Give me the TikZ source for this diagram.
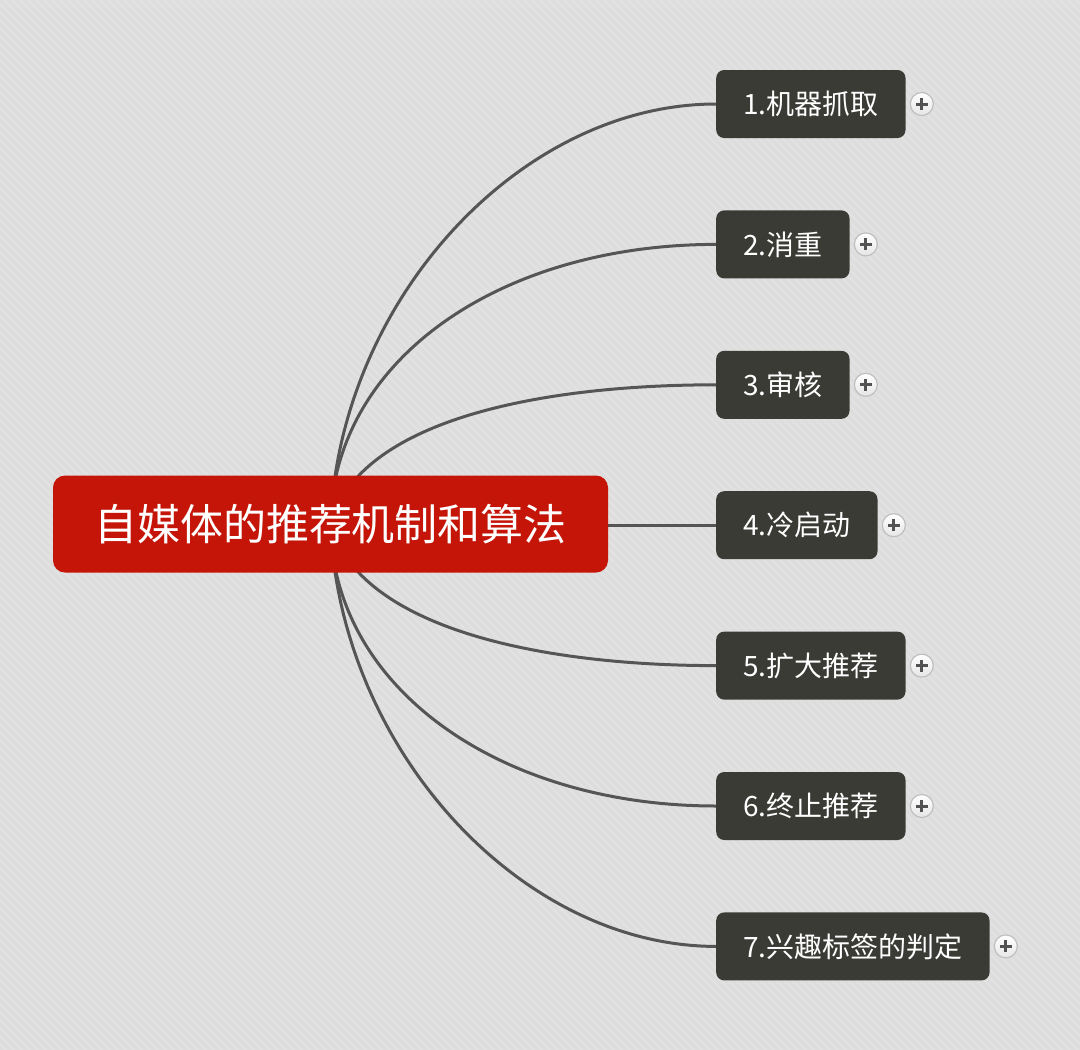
\documentclass[tikz,border=0pt]{standalone}
\usepackage{fontspec}
\newfontfamily\cjk{Noto Sans CJK SC}
\usetikzlibrary{positioning}

\definecolor{paperbase}{HTML}{E2E2E2}
\definecolor{paperstripe}{HTML}{DDDDDD}
\definecolor{rootred}{HTML}{C41508}
\definecolor{branchgray}{HTML}{3B3B36}
\definecolor{linkgray}{HTML}{555555}

\pgfdeclarelayer{paper}
\pgfdeclarelayer{links}
\pgfsetlayers{paper,links,main}

\begin{document}
\begin{tikzpicture}[
    x=1pt, y=-1pt,
    rootbox/.style={
        rectangle,
        rounded corners=12pt,
        fill=rootred,
        text=white,
        minimum width=555pt,
        minimum height=97pt,
        font=\cjk\fontsize{43}{48}\selectfont
    },
    branch/.style={
        rectangle,
        rounded corners=8pt,
        fill=branchgray,
        text=white,
        minimum height=68pt,
        inner xsep=27pt,
        font=\cjk\fontsize{28}{30}\selectfont
    },
    plusdot/.style={
        circle,
        minimum size=23pt,
        inner sep=0pt,
        draw=black!25,
        line width=1.2pt,
        top color=white,
        bottom color=black!10,
        path picture={
            \draw[black!68, line width=3pt]
                ([xshift=-6pt]path picture bounding box.center) -- ([xshift=6pt]path picture bounding box.center)
                ([yshift=-6pt]path picture bounding box.center) -- ([yshift=6pt]path picture bounding box.center);
        }
    },
    link/.style={
        draw=linkgray,
        line width=3pt
    }
]

\useasboundingbox (0,0) rectangle (1080,1050);

% Striped paper
\begin{pgfonlayer}{paper}
    \fill[paperbase] (0,0) rectangle (1080,1050);
    \begin{scope}
        \clip (0,0) rectangle (1080,1050);
        \foreach \s in {-1056,-1048,...,1080}
            \draw[paperstripe, line width=3pt] (\s,0) -- ++(1050,1050);
    \end{scope}
\end{pgfonlayer}

% Central topic
\node[rootbox] (root) at (330.5,524) {自媒体的推荐机制和算法};

% Branch topics
\node[branch, anchor=west] (c1) at (716,104) {1.机器抓取};
\node[branch, below=72pt of c1.south west, anchor=north west] (c2) {2.消重};
\node[branch, below=72pt of c2.south west, anchor=north west] (c3) {3.审核};
\node[branch, below=72pt of c3.south west, anchor=north west] (c4) {4.冷启动};
\node[branch, below=72pt of c4.south west, anchor=north west] (c5) {5.扩大推荐};
\node[branch, below=72pt of c5.south west, anchor=north west] (c6) {6.终止推荐};
\node[branch, below=72pt of c6.south west, anchor=north west] (c7) {7.兴趣标签的判定};

% Expand markers
\foreach \i in {1,...,7}
    \node[plusdot, right=4pt of c\i] (p\i) {};

% Connectors (behind the nodes)
\begin{pgfonlayer}{links}
    \draw[link] (root.center) .. controls +(9,-224) and +(-196,0) .. (c1.west);
    \draw[link] (root.center) .. controls +(2,-164) and +(-216,0) .. (c2.west);
    \draw[link] (root.center) .. controls +(29,-104) and +(-176,0) .. (c3.west);
    \draw[link] (root.east |- c4.west) -- (c4.west);
    \draw[link] (root.center) .. controls +(29,104) and +(-176,0) .. (c5.west);
    \draw[link] (root.center) .. controls +(2,164) and +(-216,0) .. (c6.west);
    \draw[link] (root.center) .. controls +(9,224) and +(-196,0) .. (c7.west);
\end{pgfonlayer}

\end{tikzpicture}
\end{document}
